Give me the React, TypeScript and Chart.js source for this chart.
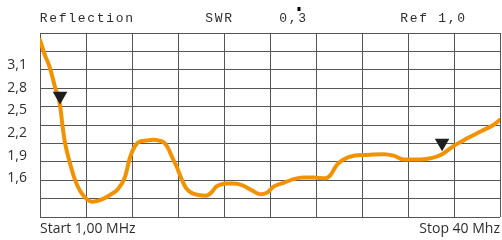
import { useEffect, useRef } from 'react';
import { Chart, registerables } from 'chart.js';

Chart.register(...registerables);

// ---- data ----
const freqMHz = [
  1.0, 1.42, 1.85, 2.27, 2.7, 2.89, 3.12, 3.49, 3.97, 4.54, 5.41, 6.09, 6.94, 7.62,
  8.21, 8.64, 9.06, 9.49, 10.0, 10.59, 11.1, 11.53, 11.86, 12.2, 12.6, 13.03, 13.39,
  13.82, 14.44, 15.09, 15.57, 15.94, 16.36, 16.87, 17.38, 18.12, 18.97, 19.67, 20.24,
  20.8, 21.65, 22.5, 23.35, 24.2, 25.19, 25.61, 26.18, 26.74, 27.59, 28.73, 30.14,
  30.99, 31.84, 33.25, 34.25, 35.09, 36.08, 37.22, 38.35, 39.47, 39.96,
];
const swrValues = [
  3.43, 3.23, 3.06, 2.81, 2.57, 2.32, 2.07, 1.83, 1.58, 1.4, 1.29, 1.31, 1.38, 1.46,
  1.62, 1.88, 2.03, 2.09, 2.1, 2.11, 2.1, 2.07, 2.0, 1.88, 1.75, 1.58, 1.47,
  1.41, 1.38, 1.37, 1.42, 1.49, 1.52, 1.53, 1.53, 1.51, 1.44, 1.39, 1.41,
  1.49, 1.54, 1.59, 1.61, 1.61, 1.6, 1.64, 1.78, 1.85, 1.9, 1.91, 1.92,
  1.9, 1.85, 1.85, 1.87, 1.92, 2.03, 2.13, 2.22, 2.31, 2.37,
];
const markerFreqMHz = [2.7, 35.09];
const markerSwr = [2.69, 2.07];
const yTickValues = [1.6, 1.9, 2.2, 2.5, 2.8, 3.1];
const xStartMHz = 1;
const xStopMHz = 40;
const ySwrMin = 1.088;
const ySwrMax = 3.524;
const gridDivisions = 10;
const startLabel = 'Start 1,00 MHz';
const stopLabel = 'Stop 40 Mhz';
const headerTitle = 'Reflection';
const headerSwrLabel = 'SWR';
const headerSwrValue = '0,3';
const headerRef = 'Ref 1,0';

const ORANGE = '#F39200';
const GRID = '#555555';
const TEXT = '#2e2e2e';
const SANS = '"Open Sans", "Noto Sans", sans-serif';

const headerPlugin = {
  id: 'header',
  afterDraw(chart: any) {
    const ctx = chart.ctx;
    const pitch = 9.5;
    const items: [string, number][] = [
      [headerTitle, 39],
      [headerSwrLabel, 204.5],
      [headerSwrValue, 278.5],
      [headerRef, 399.5],
    ];
    ctx.save();
    ctx.fillStyle = TEXT;
    ctx.font = '13px "Liberation Mono", "Courier New", monospace';
    ctx.textAlign = 'center';
    ctx.textBaseline = 'alphabetic';
    for (const [txt, x0] of items) {
      for (let i = 0; i < txt.length; i++) {
        ctx.fillText(txt[i], x0 + i * pitch + pitch / 2, 22);
      }
    }
    ctx.fillStyle = '#000';
    ctx.fillRect(297.5, 7, 3, 4);
    ctx.restore();
  },
};

export default function App() {
  const ref = useRef<HTMLCanvasElement | null>(null);

  useEffect(() => {
    if (!ref.current) return;
    const xGrid = Array.from(
      { length: gridDivisions + 1 },
      (_, i) => xStartMHz + ((xStopMHz - xStartMHz) * i) / gridDivisions
    );
    const chart = new Chart(ref.current, {
      type: 'line',
      data: {
        datasets: [
          {
            type: 'scatter' as any,
            data: markerFreqMHz.map((f, i) => ({ x: f, y: markerSwr[i] })),
            pointStyle: 'triangle',
            rotation: 180,
            pointRadius: 8.4,
            backgroundColor: '#1e1e1e',
            borderColor: '#1e1e1e',
            borderWidth: 0,
            xAxisID: 'x',
            yAxisID: 'y',
            order: 1,
          } as any,
          {
            data: freqMHz.map((f, i) => ({ x: f, y: swrValues[i] })),
            borderColor: ORANGE,
            borderWidth: 4,
            borderCapStyle: 'round',
            borderJoinStyle: 'round',
            pointRadius: 0,
            cubicInterpolationMode: 'monotone',
            fill: false,
            xAxisID: 'x',
            yAxisID: 'y',
            order: 2,
          } as any,
        ],
      },
      options: {
        animation: false,
        responsive: true,
        maintainAspectRatio: false,
        layout: { autoPadding: false, padding: { top: 33, right: 2, bottom: 0, left: 0 } },
        plugins: {
          legend: { display: false },
          tooltip: { enabled: false },
          title: { display: false },
        },
        scales: {
          x: {
            type: 'linear',
            min: xStartMHz,
            max: xStopMHz,
            afterBuildTicks: (s: any) => {
              s.ticks = xGrid.map((v) => ({ value: v }));
            },
            afterFit: (s: any) => {
              s.height = 23;
            },
            grid: { color: GRID, lineWidth: 1, drawTicks: false },
            border: { display: false },
            ticks: {
              autoSkip: false,
              maxRotation: 0,
              minRotation: 0,
              align: 'inner',
              padding: 0,
              color: TEXT,
              font: { family: SANS, size: 14, lineHeight: 1.75 },
              callback: (_v: any, i: number) =>
                i === 0 ? startLabel : i === gridDivisions ? stopLabel : '',
            },
          },
          y: {
            type: 'linear',
            position: 'left',
            min: ySwrMin,
            max: ySwrMax,
            afterBuildTicks: (s: any) => {
              s.ticks = yTickValues.map((v) => ({ value: v }));
            },
            afterFit: (s: any) => {
              s.width = 40;
            },
            grid: { display: false, drawTicks: false },
            border: { display: false },
            ticks: {
              padding: 13,
              color: TEXT,
              font: { family: SANS, size: 14 },
              callback: (v: any) => Number(v).toFixed(1).replace('.', ','),
            },
          },
          yg: {
            type: 'linear',
            position: 'right',
            min: 0,
            max: gridDivisions,
            afterBuildTicks: (s: any) => {
              s.ticks = Array.from({ length: gridDivisions + 1 }, (_, i) => ({ value: i }));
            },
            afterFit: (s: any) => {
              s.width = 0;
            },
            grid: { color: GRID, lineWidth: 1, drawTicks: false },
            border: { display: false },
            ticks: { display: false },
          },
        },
      } as any,
      plugins: [headerPlugin],
    });
    return () => chart.destroy();
  }, []);

  return (
    <div
      style={{
        position: 'fixed',
        left: 0,
        top: 0,
        width: 502,
        height: 240,
        background: '#fff',
      }}
    >
      <canvas ref={ref} />
    </div>
  );
}
